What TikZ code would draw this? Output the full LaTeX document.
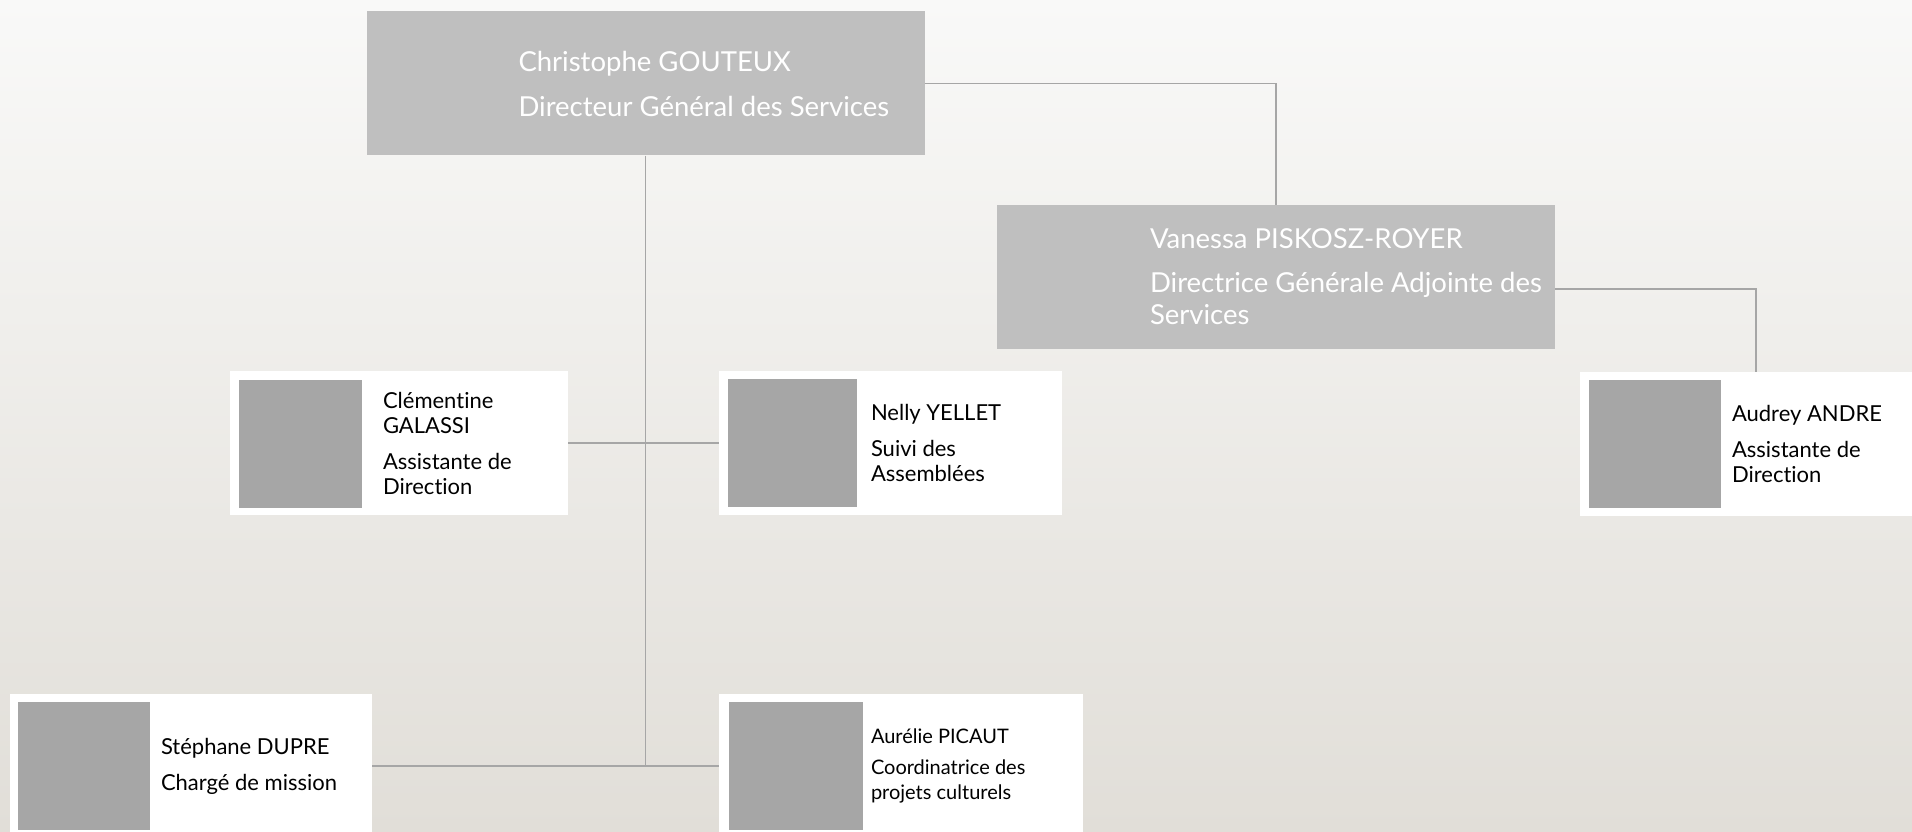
\documentclass[tikz,border=0pt]{standalone}
\usepackage{fontspec}
\setmainfont{Lato}[Ligatures=NoCommon]
\usepackage{tikz}
\usetikzlibrary{positioning}

\definecolor{boxgray}{HTML}{BFBFBF}
\definecolor{photogray}{HTML}{A6A6A6}
\definecolor{linkgray}{HTML}{A6A6A6}
\definecolor{bgtop}{HTML}{F9F9F8}
\definecolor{bgbottom}{HTML}{E1DED8}

\begin{document}
\begin{tikzpicture}[x=1pt,y=-1pt,
  chief/.style={fill=boxgray, minimum width=558pt, minimum height=144pt, inner sep=0pt},
  chieftext/.style={anchor=west, text=white, align=left, inner sep=0pt,
    font=\fontsize{27.5}{32}\selectfont},
  card/.style={fill=white, minimum height=144pt, inner sep=0pt},
  photo/.style={fill=photogray, anchor=north west, minimum height=128pt, inner sep=0pt},
  cardtext/.style={anchor=west, align=left, inner sep=0pt,
    font=\fontsize{22}{25}\selectfont},
  link/.style={draw=linkgray, line width=1.5pt}]

  \useasboundingbox (0,0) rectangle (1912,832);
  \clip (0,0) rectangle (1912,832);
  \shade[top color=bgtop, bottom color=bgbottom] (0,0) rectangle (1912,832);

  % direction
  \node[chief] (dgs) at (645.5,83.5) {};
  \node[chieftext] (dgs text) at ([xshift=152pt]dgs.west)
    {Christophe GOUTEUX\\[13pt]Directeur Général des Services};

  \node[chief] (dgsa) at (1276,277) {};
  \node[chieftext] (dgsa text) at ([xshift=153pt]dgsa.west)
    {Vanessa PISKOSZ-ROYER\\[12pt]Directrice Générale Adjointe des\\Services};

  % cards
  \node[card, minimum width=338pt] (galassi) at (399,443) {};
  \node[photo, minimum width=123pt] (galassi photo) at ([shift={(9,9)}]galassi.north west) {};
  \node[cardtext] (galassi text) at ([xshift=153pt]galassi.west)
    {Clémentine\\GALASSI\\[11pt]Assistante de\\Direction};

  \node[card, minimum width=343pt] (yellet) at (890.5,443) {};
  \node[photo, minimum width=129pt] (yellet photo) at ([shift={(9,8)}]yellet.north west) {};
  \node[cardtext] (yellet text) at ([xshift=152pt]yellet.west)
    {Nelly YELLET\\[11pt]Suivi des\\Assemblées};

  \node[card, minimum width=352pt] (andre) at (1756,444) {};
  \node[photo, minimum width=132pt] (andre photo) at ([shift={(9,8)}]andre.north west) {};
  \node[cardtext] (andre text) at ([xshift=152pt]andre.west)
    {Audrey ANDRE\\[11pt]Assistante de\\Direction};

  \node[card, minimum width=362pt] (dupre) at (191,766) {};
  \node[photo, minimum width=132pt] (dupre photo) at ([shift={(8,8)}]dupre.north west) {};
  \node[cardtext] (dupre text) at ([xshift=151pt]dupre.west)
    {Stéphane DUPRE\\[11pt]Chargé de mission};

  \node[card, minimum width=364pt] (picaut) at (901,766) {};
  \node[photo, minimum width=134pt] (picaut photo) at ([shift={(10,8)}]picaut.north west) {};
  \node[cardtext, font=\fontsize{20}{25}\selectfont] (picaut text) at ([xshift=152pt]picaut.west)
    {Aurélie PICAUT\\[6pt]Coordinatrice des\\projets culturels};

  % links
  \draw[link] (dgs.east) -| (dgsa.north);
  \draw[link] ([yshift=-12pt]dgsa.east) -| (andre.north);
  \draw[link] (dgs.south) -- (dgs.south |- dupre.east);
  \draw[link] (galassi.east) -- (yellet.west);
  \draw[link] (dupre.east) -- (picaut.west);
\end{tikzpicture}
\end{document}
